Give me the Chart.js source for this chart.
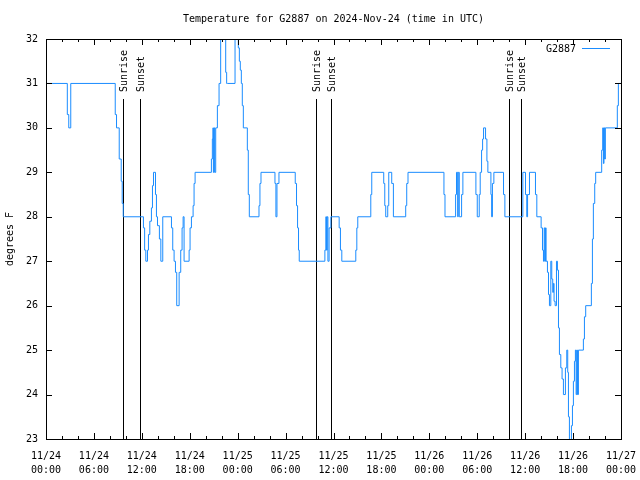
<!DOCTYPE html>
<html>
<head>
<meta charset="utf-8">
<script src="https://cdn.jsdelivr.net/npm/chart.js@4/dist/chart.umd.min.js"></script>
<style>
  html, body { margin: 0; padding: 0; background: #fff; }
</style>
</head>
<body>
<canvas id="myChart" width="640" height="480"></canvas>
<script>
// hours since 11/24 00:00 UTC and the temperature (F) from that moment on
const hours = [
  0, 2.67, 2.85, 3.1, 8.67, 8.83, 9.17, 9.42, 9.54, 9.67,
  12.2, 12.35, 12.5, 12.71, 12.83, 13.0, 13.2, 13.33, 13.46, 13.71,
  13.83, 13.96, 14.2, 14.38, 14.62, 15.71, 15.87, 16.04, 16.21, 16.37,
  16.67, 16.87, 17.04, 17.17, 17.29, 17.92, 18.04, 18.21, 18.42, 18.54,
  18.67, 20.71, 20.83, 20.9, 20.96, 21.04, 21.12, 21.25, 21.46, 21.67,
  21.87, 22.5, 22.62, 22.71, 23.67, 24.08, 24.21, 24.33, 24.46, 24.58,
  24.71, 25.21, 25.33, 25.46, 26.67, 26.79, 26.92, 28.67, 28.79, 28.92,
  29.17, 31.21, 31.37, 31.5, 31.62, 31.71, 34.92, 35.04, 35.12, 35.21,
  35.3, 35.45, 35.67, 36.71, 36.87, 37.04, 38.79, 38.92, 39.04, 40.67,
  40.79, 42.29, 42.42, 42.54, 42.79, 42.92, 43.29, 43.5, 45.04, 45.17,
  45.33, 49.83, 49.96, 51.29, 51.4, 51.55, 51.62, 51.75, 52.04, 52.2,
  53.83, 54.0, 54.25, 54.37, 54.54, 54.67, 54.79, 55.04, 55.21, 55.33,
  55.71, 55.8, 55.9, 56.08, 57.29, 57.46, 59.71, 60.04, 60.2, 60.3,
  60.54, 61.29, 61.46, 62.0, 62.17, 62.29, 62.38, 62.46, 62.55, 62.62,
  62.79, 62.92, 63.04, 63.21, 63.33, 63.45, 63.54, 63.62, 63.75, 63.92,
  64.04, 64.17, 64.29, 64.46, 64.62, 64.79, 65.04, 65.21, 65.33, 65.42,
  65.54, 65.79, 65.92, 66.04, 66.17, 66.29, 66.38, 66.46, 66.55, 66.67,
  67.29, 67.42, 67.58, 68.29, 68.42, 68.54, 68.71, 68.83, 69.58, 69.71,
  69.8, 69.87, 69.95, 70.04, 71.54, 71.67, 72
];
const temps = [
  31, 30.3, 30.0, 31, 30.3, 30.0, 29.3, 28.8, 28.3, 28.0,
  27.75, 27.25, 27.0, 27.25, 27.6, 27.9, 28.2, 28.7, 29.0, 28.5,
  28.0, 27.8, 27.5, 27.0, 28.0, 27.75, 27.25, 27.0, 26.75, 26.0,
  26.75, 27.25, 27.75, 28.0, 27.0, 27.25, 27.75, 28.0, 28.25, 28.75,
  29.0, 29.3, 29.75, 30.0, 29.0, 30.0, 29.0, 30.0, 30.5, 31.0,
  32.0, 31.25, 31.0, 31.0, 32.0, 31.8, 31.5, 31.3, 31.0, 30.5,
  30.0, 29.5, 28.5, 28.0, 28.25, 28.75, 29.0, 28.75, 28.0, 28.75,
  29.0, 28.75, 28.25, 27.75, 27.25, 27.0, 27.25, 28.0, 27.25, 28.0,
  27.0, 27.75, 28.0, 27.75, 27.25, 27.0, 27.25, 27.75, 28.0, 28.5,
  29.0, 28.75, 28.25, 28.0, 28.25, 29.0, 28.75, 28.0, 28.25, 28.75,
  29.0, 28.5, 28.0, 28.5, 29.0, 28.0, 29.0, 28.0, 28.5, 29.0,
  28.5, 28.0, 28.5, 29.0, 29.5, 29.75, 30.0, 29.75, 29.25, 29.0,
  28.5, 28.0, 28.75, 29.0, 28.5, 28.0, 29.0, 28.5, 28.0, 28.5,
  29.0, 28.5, 28.0, 27.75, 27.25, 27.0, 27.75, 27.0, 27.75, 27.0,
  26.75, 26.25, 26.0, 27.0, 26.6, 26.3, 26.5, 26.1, 26.0, 27.0,
  26.8, 25.5, 24.9, 24.6, 24.35, 24.0, 24.6, 25.0, 24.5, 23.5,
  22.9, 23.3, 23.75, 24.3, 24.75, 25.0, 24.0, 25.0, 24.0, 25.0,
  25.25, 25.75, 26.0, 26.5, 27.5, 28.3, 28.75, 29.0, 29.5, 30.0,
  29.2, 30.0, 29.3, 30.0, 30.5, 31.0, 31.0
];

// sunrise / sunset markers (hours since start)
const sunrise = [9.66, 33.83, 57.92];
const sunset = [11.79, 35.67, 59.42];

// x tick labels, one per 6 hours
const tickDates = ['11/24', '11/24', '11/24', '11/24', '11/25', '11/25', '11/25', '11/25', '11/26', '11/26', '11/26', '11/26', '11/27'];
const tickTimes = ['00:00', '06:00', '12:00', '18:00', '00:00', '06:00', '12:00', '18:00', '00:00', '06:00', '12:00', '18:00', '00:00'];

const FONT = '"DejaVu Sans Mono", "Liberation Mono", monospace';
const LINE_COLOR = '#1a8cff';

const points = hours.map((h, i) => ({x: h, y: temps[i]}));

// black sunrise/sunset lines with rotated labels, under the data
const sunPlugin = {
  id: 'sunLines',
  beforeDatasetsDraw(chart) {
    const ctx = chart.ctx;
    const xs = chart.scales.x;
    const area = chart.chartArea;
    ctx.save();
    ctx.strokeStyle = '#000';
    ctx.lineWidth = 1;
    ctx.fillStyle = '#000';
    ctx.font = '10px ' + FONT;
    const draw = (h, txt) => {
      const px = Math.round(xs.getPixelForValue(h)) + 0.5;
      ctx.beginPath();
      ctx.moveTo(px, 99);
      ctx.lineTo(px, area.bottom);
      ctx.stroke();
      ctx.save();
      ctx.translate(px + 1, 92);
      ctx.rotate(-Math.PI / 2);
      ctx.textAlign = 'left';
      ctx.textBaseline = 'middle';
      ctx.fillText(txt, 0, 0);
      ctx.restore();
    };
    sunrise.forEach(h => draw(h, 'Sunrise'));
    sunset.forEach(h => draw(h, 'Sunset'));
    ctx.restore();
  }
};

// gnuplot style frame, inward ticks, title, axis title and legend
const framePlugin = {
  id: 'frame',
  afterDraw(chart) {
    const ctx = chart.ctx;
    const a = chart.chartArea;
    const xs = chart.scales.x;
    const ys = chart.scales.y;
    ctx.save();
    ctx.strokeStyle = '#000';
    ctx.lineWidth = 1;
    ctx.strokeRect(a.left + 0.5, a.top + 0.5, a.right - a.left, a.bottom - a.top);
    ctx.beginPath();
    for (let h = 0; h <= 72; h += 2) {
      const px = Math.round(xs.getPixelForValue(h)) + 0.5;
      const len = h % 6 === 0 ? 6 : 3;
      ctx.moveTo(px, a.bottom);
      ctx.lineTo(px, a.bottom - len);
      ctx.moveTo(px, a.top);
      ctx.lineTo(px, a.top + len);
    }
    for (let v = 23; v <= 32; v++) {
      const py = Math.round(ys.getPixelForValue(v)) + 0.5;
      ctx.moveTo(a.left, py);
      ctx.lineTo(a.left + 6, py);
      ctx.moveTo(a.right, py);
      ctx.lineTo(a.right - 6, py);
    }
    ctx.stroke();

    ctx.fillStyle = '#000';
    ctx.font = '10px ' + FONT;
    ctx.textAlign = 'center';
    ctx.textBaseline = 'middle';
    ctx.fillText('Temperature for G2887 on 2024-Nov-24 (time in UTC)', (a.left + a.right) / 2, 19);

    ctx.save();
    ctx.translate(10, (a.top + a.bottom) / 2);
    ctx.rotate(-Math.PI / 2);
    ctx.fillText('degrees F', 0, 0);
    ctx.restore();

    ctx.textAlign = 'right';
    ctx.fillText(chart.data.datasets[0].label, 576, 49);
    ctx.strokeStyle = LINE_COLOR;
    ctx.beginPath();
    ctx.moveTo(582, 48.5);
    ctx.lineTo(610, 48.5);
    ctx.stroke();
    ctx.restore();
  }
};

const ctx = document.getElementById('myChart').getContext('2d');
const myChart = new Chart(ctx, {
  type: 'line',
  data: {
    datasets: [{
      label: 'G2887',
      data: points,
      borderColor: LINE_COLOR,
      borderWidth: 1,
      pointRadius: 0,
      stepped: true,
      fill: false
    }]
  },
  options: {
    responsive: false,
    animation: false,
    devicePixelRatio: 1,
    layout: { padding: { top: 39, right: 19, left: 0, bottom: 0 } },
    plugins: {
      legend: { display: false },
      title: { display: false },
      tooltip: { enabled: false }
    },
    scales: {
      x: {
        type: 'linear',
        min: 0,
        max: 72,
        afterFit: s => { s.height = 41; s.paddingLeft = 0; s.paddingRight = 0; },
        afterBuildTicks: s => { s.ticks = tickDates.map((d, i) => ({value: i * 6})); },
        grid: { display: false },
        border: { display: false },
        ticks: {
          autoSkip: false,
          maxRotation: 0,
          padding: 2,
          color: '#000',
          font: { family: FONT, size: 10, lineHeight: 1.4 },
          callback: v => [tickDates[v / 6], tickTimes[v / 6]]
        }
      },
      y: {
        min: 23,
        max: 32,
        afterFit: s => { s.width = 46; s.paddingTop = 0; s.paddingBottom = 0; },
        grid: { display: false },
        border: { display: false },
        ticks: {
          stepSize: 1,
          padding: 0,
          color: '#000',
          font: { family: FONT, size: 10 }
        }
      }
    }
  },
  plugins: [sunPlugin, framePlugin]
});
</script>
</body>
</html>
